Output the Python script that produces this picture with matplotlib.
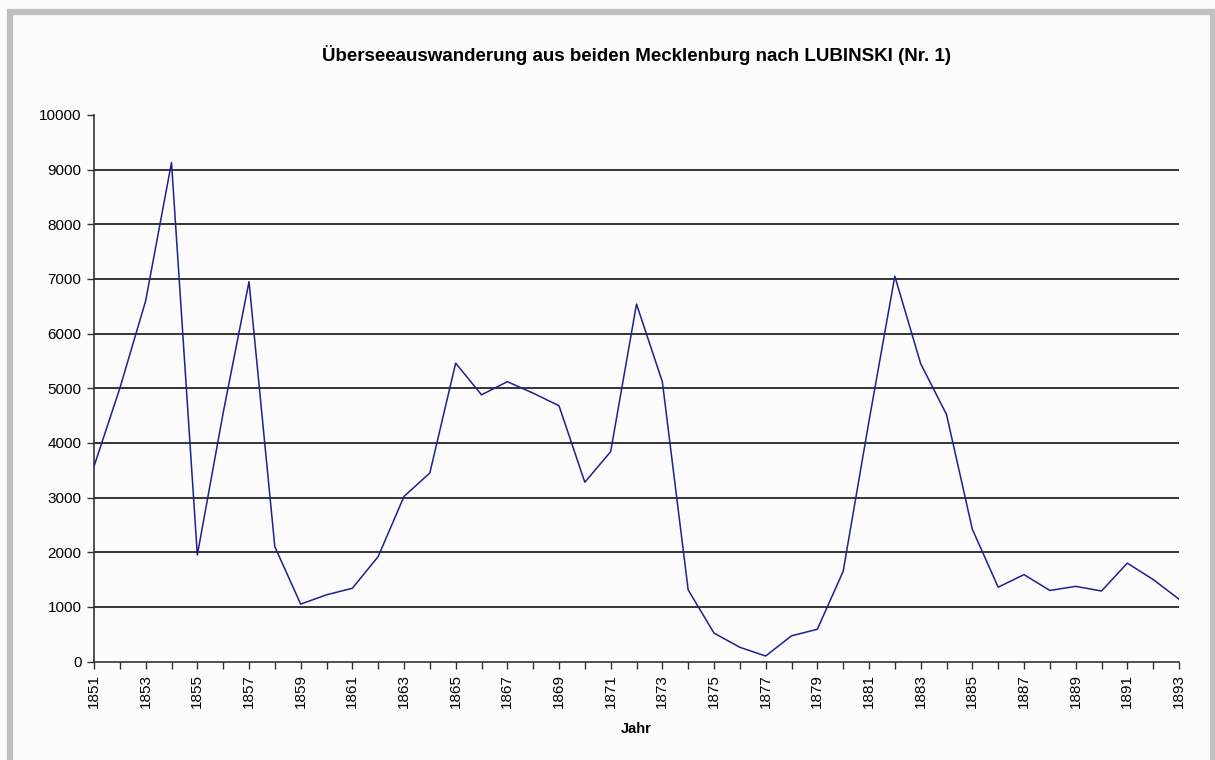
"""Überseeauswanderung aus beiden Mecklenburg (Excel-style line chart)."""
import matplotlib
matplotlib.use("Agg")
import matplotlib.pyplot as plt
from matplotlib.patches import Rectangle
from matplotlib.ticker import MultipleLocator

plt.rcParams["font.family"] = ["Liberation Sans", "DejaVu Sans"]

# ── data ──────────────────────────────────────────────────────────────────────
years = list(range(1851, 1894))
auswanderer = [
    3570, 5000, 6600, 9130, 1950, 4550, 6950, 2100, 1050, 1220,
    1340, 1920, 3020, 3450, 5460, 4880, 5120, 4910, 4680, 3280,
    3840, 6540, 5120, 1310, 520, 260, 100, 470, 590, 1650,
    4400, 7050, 5450, 4520, 2420, 1360, 1590, 1300, 1375, 1290,
    1800, 1500, 1140,
]

title = "Überseeauswanderung aus beiden Mecklenburg nach LUBINSKI (Nr. 1)"
xlabel = "Jahr"

# ── figure ────────────────────────────────────────────────────────────────────
fig = plt.figure(figsize=(12.15, 7.6), dpi=100, facecolor="#fcfcfc")

# grey frame around the chart object
fig.patches.append(Rectangle((10.5 / 1215, -0.01), 1202 / 1215, 1 - 12 / 760 + 0.01,
                             transform=fig.transFigure, fill=False,
                             edgecolor="#c0c0c0", linewidth=4.5, zorder=0))

ax = fig.add_axes([94 / 1215, 1 - 661.5 / 760, 1085 / 1215, 546.5 / 760])
ax.set_facecolor("#fcfcfc")

ax.plot(years, auswanderer, color="#1f1f8f", linewidth=1.1, zorder=3)

ax.set_xlim(1851, 1893)
ax.set_ylim(0, 10000)
ax.yaxis.set_major_locator(MultipleLocator(1000))
ax.set_xticks(years)
ax.set_xticklabels([str(y) if (y - 1851) % 2 == 0 else "" for y in years],
                   rotation=90, fontsize=11)
ax.tick_params(axis="y", labelsize=11, length=5, width=1, color="#333333", pad=4)
ax.tick_params(axis="x", length=5, width=1, color="#333333", pad=4)

# Excel-style gridlines: none along the top edge
ytick_vals = [v for v in ax.get_yticks() if 0 < v < 10000]
ax.hlines(ytick_vals, 0, 1, transform=ax.get_yaxis_transform(),
          color="black", linewidth=1.1, zorder=1)
for side in ["top", "right"]:
    ax.spines[side].set_visible(False)
for side in ["left", "bottom"]:
    ax.spines[side].set_color("#333333")
    ax.spines[side].set_linewidth(1.2)

ax.set_xlabel(xlabel, fontsize=10.5, fontweight="bold", labelpad=10)
fig.text(636 / 1215, 1 - 55 / 760, title, ha="center", va="center",
         fontsize=13.5, fontweight="bold")

fig.savefig("out.png", dpi=100, facecolor=fig.get_facecolor())
plt.close()
